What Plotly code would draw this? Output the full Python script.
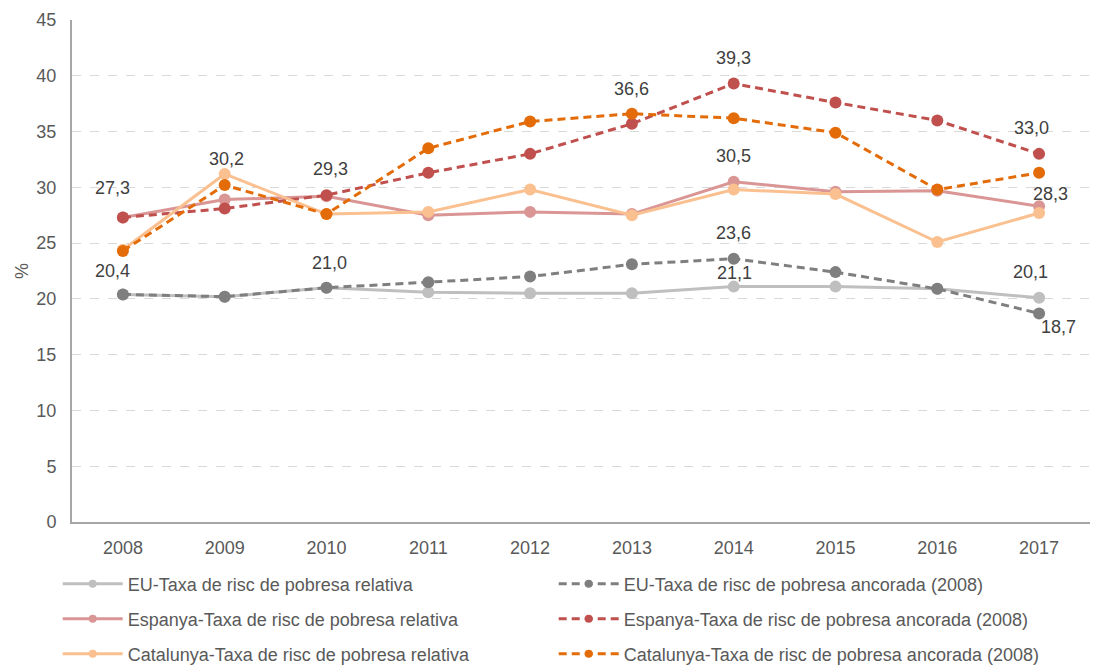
import plotly.graph_objects as go

years = ["2008", "2009", "2010", "2011", "2012", "2013", "2014", "2015", "2016", "2017"]

eu_rel = [20.4, 20.2, 21.0, 20.6, 20.5, 20.5, 21.1, 21.1, 20.9, 20.1]
eu_anc = [20.4, 20.2, 21.0, 21.5, 22.0, 23.1, 23.6, 22.4, 20.9, 18.7]
es_rel = [27.3, 28.9, 29.2, 27.5, 27.8, 27.6, 30.5, 29.6, 29.7, 28.3]
es_anc = [27.3, 28.1, 29.3, 31.3, 33.0, 35.7, 39.3, 37.6, 36.0, 33.0]
cat_rel = [24.4, 31.2, 27.6, 27.8, 29.8, 27.5, 29.8, 29.4, 25.1, 27.7]
cat_anc = [24.3, 30.2, 27.6, 33.5, 35.9, 36.6, 36.2, 34.9, 29.8, 31.3]

names = [
    "EU-Taxa de risc de pobresa relativa",
    "EU-Taxa de risc de pobresa ancorada (2008)",
    "Espanya-Taxa de risc de pobresa relativa",
    "Espanya-Taxa de risc de pobresa ancorada (2008)",
    "Catalunya-Taxa de risc de pobresa relativa",
    "Catalunya-Taxa de risc de pobresa ancorada (2008)",
]
series = [eu_rel, eu_anc, es_rel, es_anc, cat_rel, cat_anc]
colors = ["#BFBFBF", "#7F7F7F", "#D99694", "#C0504D", "#FAC090", "#E36C09"]
dashes = ["solid", "8px,5px", "solid", "8px,5px", "solid", "8px,5px"]
legend_ids = ["legend", "legend", "legend2", "legend2", "legend3", "legend3"]

# labelled points: (series index, year index, x shift, y shift)
labels = [
    (0, 0, -10, 23), (3, 0, -10, 29), (5, 1, 2, 26), (3, 2, 4, 26), (0, 2, 3, 25),
    (5, 5, 0, 25), (3, 6, 0, 26), (2, 6, 0, 26), (1, 6, 0, 26), (0, 6, 1, 14),
    (3, 9, -8, 26), (2, 9, 11, 12), (0, 9, -9, 26), (1, 9, 19, -14),
]

FONT = "Liberation Sans, Arial"
TXT = "#595959"

fig = go.Figure()
for s, n, c, d in zip(series, names, colors, dashes):
    fig.add_trace(go.Scatter(
        x=years, y=s, name=n, mode="lines+markers",
        line=dict(color=c, width=3, dash=d),
        marker=dict(color=c, size=12),
        showlegend=False,
    ))

# legend entries (smaller legend markers, as in the original)
for n, c, d, lg in zip(names, colors, dashes, legend_ids):
    fig.add_trace(go.Scatter(
        x=[None], y=[None], name=n, mode="lines+markers",
        line=dict(color=c, width=3, dash=d),
        marker=dict(color=c, size=8),
        legend=lg, showlegend=True,
    ))

for si, yi, xs, ys in labels:
    v = series[si][yi]
    fig.add_annotation(
        x=yi, y=v, xref="x", yref="y", text=f"{v:.1f}".replace(".", ","),
        showarrow=False, xshift=xs, yshift=ys,
        font=dict(size=18, color="#404040", family=FONT),
    )

def leg(y):
    return dict(
        orientation="h", xref="container", yref="container",
        x=0.0454, y=y, xanchor="left", yanchor="middle",
        entrywidth=421, entrywidthmode="pixels", itemwidth=60,
        font=dict(size=18, color=TXT, family=FONT),
        bgcolor="rgba(0,0,0,0)",
    )

fig.update_layout(
    width=1095, height=663,
    margin=dict(l=64, r=13, t=12, b=149, autoexpand=False),
    paper_bgcolor="white", plot_bgcolor="white",
    font=dict(family=FONT, size=18, color=TXT),
    showlegend=True,
    legend=leg(0.1312),
    legend2=leg(0.0784),
    legend3=leg(0.0256),
    xaxis=dict(
        type="category", range=[-0.5, 9.5], automargin=False,
        showline=True, linecolor="#A6A6A6", linewidth=2,
        showgrid=False, ticks="", tickfont=dict(size=18, color=TXT),
        ticklabelstandoff=8,
    ),
    yaxis=dict(
        range=[0, 45], dtick=5, tickformat="d", automargin=False,
        showline=True, linecolor="#A6A6A6", linewidth=2,
        showgrid=True, gridcolor="#D9D9D9", gridwidth=1, griddash="dash",
        zeroline=False, ticks="", tickfont=dict(size=18, color=TXT),
        ticklabelstandoff=10,
        title=dict(text="%", font=dict(size=18, color=TXT), standoff=3),
    ),
)

fig.write_html("out.html")
